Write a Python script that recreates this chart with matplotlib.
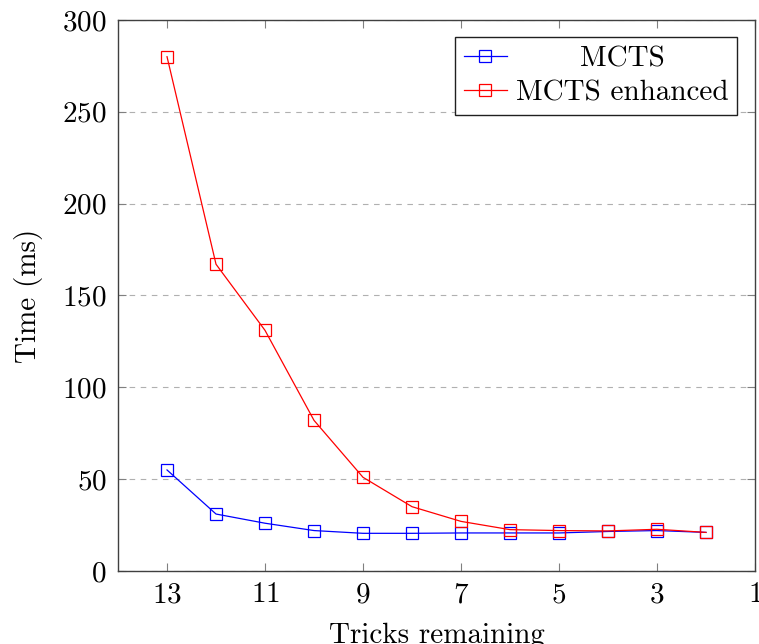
import matplotlib
matplotlib.use("Agg")
import matplotlib.pyplot as plt

plt.rcParams["font.family"] = "serif"
plt.rcParams["font.serif"] = ["cmr10"]
plt.rcParams["mathtext.fontset"] = "cm"
plt.rcParams["axes.formatter.use_mathtext"] = True

tricks = [13, 12, 11, 10, 9, 8, 7, 6, 5, 4, 3, 2]
mcts = [55, 31, 26, 22, 20.5, 20.5, 20.7, 20.7, 20.7, 21.5, 22, 21]
mcts_enh = [280, 167, 131, 82, 51, 35, 27, 22.5, 22, 21.8, 22.7, 21]
xticks = [13, 11, 9, 7, 5, 3, 1]
yticks = [0, 50, 100, 150, 200, 250, 300]

fig = plt.figure(figsize=(7.59, 6.44), dpi=100)
ax = fig.add_axes([0.1555, 0.1134, 0.8392, 0.8556])

ax.plot(tricks, mcts, color="blue", lw=0.9, marker="s", ms=8.5,
        mfc="none", mew=0.9, label="MCTS")
ax.plot(tricks, mcts_enh, color="red", lw=0.9, marker="s", ms=8.5,
        mfc="none", mew=0.9, label="MCTS enhanced")

ax.set_xlim(14, 1)
ax.set_ylim(0, 300)
ax.set_xticks(xticks)
ax.set_yticks(yticks)
ax.yaxis.grid(True, color="#b0b0b0", ls=(0, (5, 5)), lw=0.8)
ax.set_axisbelow(True)
ax.tick_params(direction="in", top=True, right=True, length=6,
               color="#808080", labelsize=21, pad=8)
for s in ax.spines.values():
    s.set_color("#404040")
    s.set_linewidth(1.0)

ax.set_xlabel("Tricks remaining", fontsize=21, labelpad=10)
ax.set_ylabel("Time (ms)", fontsize=21, labelpad=14)

leg = ax.legend(loc="upper right", fontsize=21, fancybox=False,
                edgecolor="#202020", framealpha=1, borderpad=0.3,
                handlelength=1.5, handletextpad=0.3, labelspacing=0.25,
                borderaxespad=0.6)
leg.get_frame().set_linewidth(1.0)

# centre the legend labels like pgfplots does
fig.canvas.draw()
r = fig.canvas.get_renderer()
texts = leg.get_texts()
widths = [t.get_window_extent(r).width for t in texts]
for t, w in zip(texts, widths):
    t.set_x((max(widths) - w) / 2)

fig.savefig("out.png", dpi=100)
